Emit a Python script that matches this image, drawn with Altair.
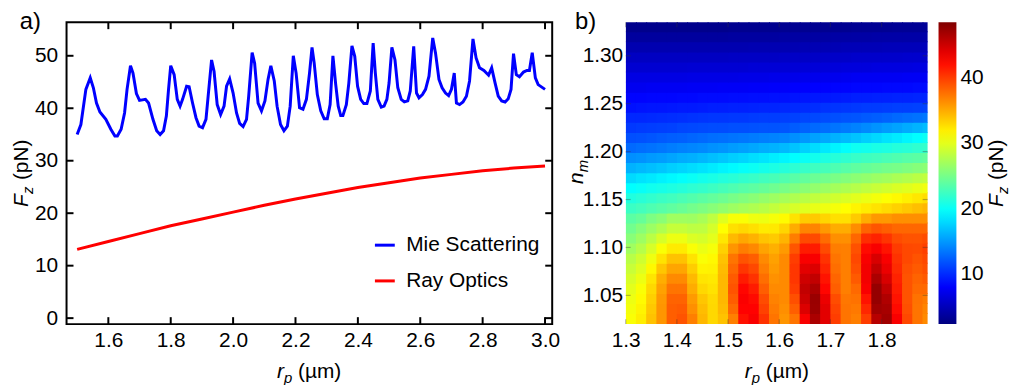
import altair as alt
import pandas as pd

FONT = "Liberation Sans"
FS = 21

# ---------------- panel a) data ----------------
mie_rp = [1.500, 1.512, 1.528, 1.542, 1.552, 1.562, 1.573, 1.592, 1.608, 1.621, 1.629, 1.641, 1.652,
          1.660, 1.671, 1.679, 1.690, 1.700, 1.719, 1.729, 1.743, 1.755, 1.766, 1.777, 1.786, 1.793,
          1.800, 1.811, 1.821, 1.830, 1.838, 1.851, 1.859, 1.870, 1.881, 1.891, 1.902, 1.913, 1.920,
          1.931, 1.939, 1.949, 1.960, 1.971, 1.979, 1.989, 2.000, 2.011, 2.021, 2.032, 2.043, 2.050,
          2.061, 2.069, 2.080, 2.091, 2.102, 2.112, 2.121, 2.132, 2.141, 2.152, 2.163, 2.174, 2.183,
          2.193, 2.202, 2.213, 2.224, 2.235, 2.245, 2.253, 2.260, 2.270, 2.281, 2.292, 2.302, 2.311,
          2.320, 2.329, 2.337, 2.345, 2.352, 2.363, 2.371, 2.381, 2.390, 2.399, 2.409, 2.419, 2.429,
          2.440, 2.449, 2.456, 2.464, 2.475, 2.484, 2.493, 2.500, 2.509, 2.519, 2.528, 2.539, 2.549,
          2.560, 2.568, 2.579, 2.588, 2.596, 2.607, 2.617, 2.628, 2.640, 2.649, 2.660, 2.670, 2.681,
          2.691, 2.700, 2.709, 2.716, 2.726, 2.737, 2.748, 2.758, 2.769, 2.779, 2.790, 2.804, 2.819,
          2.829, 2.840, 2.850, 2.861, 2.872, 2.882, 2.891, 2.899, 2.908, 2.918, 2.931, 2.942, 2.950,
          2.959, 2.969, 2.978, 3.000]
mie_fz = [35.0, 36.9, 43.6, 45.8, 43.9, 41.0, 39.3, 37.9, 36.0, 34.7, 34.7, 36.0, 39.1,
          43.6, 48.1, 46.7, 42.8, 41.5, 41.7, 41.0, 37.9, 35.7, 35.0, 35.7, 38.5, 43.6,
          48.1, 46.4, 41.7, 40.4, 41.7, 44.2, 44.1, 41.0, 38.2, 36.6, 36.3, 37.9, 42.3,
          49.2, 47.0, 40.7, 38.8, 40.4, 44.2, 45.6, 42.9, 39.1, 37.1, 36.5, 37.9, 42.3,
          50.6, 48.6, 41.0, 39.5, 41.4, 45.5, 48.1, 45.2, 40.4, 36.9, 35.7, 36.6, 40.4,
          50.0, 46.7, 40.1, 39.8, 41.7, 46.7, 51.6, 48.6, 42.6, 39.5, 38.0, 38.0, 40.7,
          50.0, 44.5, 40.4, 38.6, 38.6, 40.7, 44.8, 51.9, 49.9, 44.2, 41.7, 40.9, 40.9,
          43.3, 52.4, 46.7, 41.7, 40.2, 40.4, 41.7, 44.8, 51.6, 49.2, 43.9, 41.7, 41.2,
          41.4, 43.3, 51.8, 42.9, 42.0, 42.6, 43.6, 46.1, 53.4, 50.5, 45.5, 43.9, 42.9,
          42.4, 43.6, 46.7, 41.0, 40.7, 41.2, 42.3, 45.2, 53.2, 49.6, 47.7, 47.2, 46.3,
          47.7, 44.8, 42.3, 41.4, 41.2, 41.8, 43.6, 50.4, 46.4, 46.0, 46.9, 47.2, 47.2,
          50.6, 45.8, 44.5, 43.6]
ray_rp = [1.5, 1.6, 1.7, 1.8, 1.9, 2.0, 2.1, 2.2, 2.3, 2.4, 2.5, 2.6, 2.7, 2.8, 2.9, 3.0]
ray_fz = [13.1, 14.6, 16.1, 17.6, 18.9, 20.2, 21.5, 22.7, 23.8, 24.9, 25.8, 26.7, 27.4, 28.1, 28.6, 29.0]
series_names = ["Mie Scattering", "Ray Optics"]
series_colors = ["#0000FF", "#FF0000"]
a_x_ticks = [1.6, 1.8, 2.0, 2.2, 2.4, 2.6, 2.8, 3.0]
a_y_ticks = [0, 10, 20, 30, 40, 50]

# ---------------- panel b) data ----------------
# cell left edges (r_p, um) and bottom edges (n_m); rows listed bottom -> top
hm_rp = [1.30, 1.32, 1.34, 1.36, 1.38, 1.40, 1.42, 1.44, 1.46, 1.48, 1.50, 1.52, 1.54, 1.56, 1.58,
         1.60, 1.62, 1.64, 1.66, 1.68, 1.70, 1.72, 1.74, 1.76, 1.78, 1.80, 1.82, 1.84, 1.86, 1.88]
hm_dx = 0.02
hm_nm = [1.0200, 1.0305, 1.0410, 1.0515, 1.0620, 1.0725, 1.0830, 1.0935, 1.1040, 1.1145,
         1.1250, 1.1355, 1.1460, 1.1565, 1.1670, 1.1775, 1.1880, 1.1985, 1.2090, 1.2195,
         1.2300, 1.2405, 1.2510, 1.2615, 1.2720, 1.2825, 1.2930, 1.3035, 1.3140, 1.3245]
hm_dy = 0.0105
hm_fz = [
    [31, 32, 34, 36, 38.5, 39, 37, 34.5, 33, 34, 37, 42, 43, 40.5, 37.5, 36, 37.5, 43, 46.5, 44, 40, 37.5, 37, 40, 46, 47, 43, 39.5, 37.5, 36.5],
    [30.7, 31.7, 33.7, 36, 38.5, 38.7, 36.3, 34.2, 33, 34.3, 38, 42.7, 42.7, 39.8, 37.2, 36.3, 38.5, 44.3, 47.2, 44, 39.7, 37.5, 37.3, 41, 47, 46.7, 42.3, 39.2, 37.5, 36.8],
    [30.4, 31.4, 33.4, 35.9, 38.3, 38.3, 35.8, 33.8, 32.9, 34.5, 38.6, 42.9, 42.3, 39.3, 36.9, 36.5, 39.2, 45.1, 47.3, 43.6, 39.3, 37.4, 37.6, 41.9, 47.5, 46.3, 41.9, 39, 37.6, 37.2],
    [30, 31, 33, 35.5, 37.5, 37.5, 35, 33, 32.5, 34.5, 39, 42.5, 41.5, 38.5, 36.5, 36.5, 40, 45.5, 46.5, 42.5, 38.5, 37, 38, 43, 47.5, 45.5, 41.5, 39, 38, 38],
    [29.4, 30.4, 32.4, 34.9, 36.5, 36.5, 34.4, 32.4, 32.2, 34.5, 38.7, 41.5, 40.5, 37.8, 36.2, 36.5, 40.3, 44.9, 45.5, 41.9, 38.2, 37, 38.7, 43.3, 46.5, 44.5, 41.2, 39, 38.3, 38.7],
    [28.7, 29.7, 31.5, 33.8, 35.3, 35.3, 33.5, 31.7, 31.8, 34.3, 38.1, 40.3, 39.5, 37.1, 35.8, 36.5, 40.3, 44, 44.3, 41.1, 37.8, 37, 39.2, 43.3, 45.5, 43.6, 40.8, 39.2, 38.7, 39.2],
    [28, 29, 30.5, 32.5, 34, 34, 32.5, 31, 31.5, 34, 37.5, 39, 38.5, 36.5, 35.5, 36.5, 40, 43, 43, 40.5, 37.5, 37, 39.5, 43, 44.5, 43, 40.5, 39.5, 39, 39.5],
    [26.9, 27.9, 29.4, 31, 32.1, 32.1, 31, 30.3, 30.8, 33.3, 36, 37.1, 36.6, 35.4, 34.8, 35.8, 38.9, 41.5, 41.5, 39.4, 37.1, 37, 39.1, 42.3, 43, 41.9, 40.1, 39.5, 39.4, 39.9],
    [25.8, 26.8, 28.1, 29.4, 30.4, 30.4, 29.6, 29.3, 30, 32.3, 34.4, 35.2, 34.7, 33.9, 33.6, 34.6, 37.1, 39.4, 39.4, 37.9, 36.3, 36.3, 38.1, 40.7, 41.2, 40.4, 39.3, 39, 39, 39.3],
    [24.8, 25.7, 26.7, 27.6, 28.6, 28.6, 28.2, 28.3, 29.3, 31.2, 32.6, 33, 32.6, 32.1, 32.2, 33.1, 35, 36.8, 36.8, 35.9, 35, 35, 36.4, 38.3, 38.9, 38.5, 38.1, 38.1, 38.1, 38.1],
    [23.8, 24.3, 25.3, 25.9, 26.9, 26.9, 26.8, 27.3, 28.3, 29.8, 30.9, 31, 30.5, 30.4, 30.8, 31.4, 32.5, 33.6, 33.6, 33.1, 32.6, 32.6, 33.6, 35, 35.9, 35.9, 36.3, 36.3, 36.3, 36.3],
    [22.3, 22.7, 23.2, 23.6, 24.0, 24.4, 24.9, 25.3, 25.8, 26.3, 26.8, 27.2, 27.6, 28.0, 28.5, 29.0, 29.4, 29.8, 30.2, 30.5, 30.8, 31.2, 31.7, 32.1, 32.5, 32.9, 33.3, 33.7, 34.1, 34.5],
    [21.1, 21.5, 21.9, 22.3, 22.6, 23.0, 23.4, 23.8, 24.2, 24.6, 25.1, 25.5, 25.9, 26.4, 26.8, 27.2, 27.6, 28.0, 28.4, 28.7, 29.1, 29.5, 29.9, 30.3, 30.7, 31.1, 31.5, 31.9, 32.3, 32.7],
    [19.7, 20.0, 20.4, 20.7, 21.0, 21.3, 21.7, 22.0, 22.4, 22.8, 23.2, 23.6, 23.9, 24.3, 24.7, 25.1, 25.5, 25.9, 26.3, 26.7, 27.1, 27.5, 27.9, 28.3, 28.7, 29.1, 29.5, 29.8, 30.2, 30.6],
    [18.0, 18.4, 18.7, 19.1, 19.4, 19.8, 20.1, 20.5, 20.8, 21.2, 21.5, 21.9, 22.2, 22.6, 22.9, 23.3, 23.7, 24.1, 24.5, 24.8, 25.2, 25.6, 26.0, 26.3, 26.7, 27.0, 27.4, 27.7, 28.1, 28.4],
    [16.2, 16.5, 16.8, 17.1, 17.5, 17.8, 18.1, 18.4, 18.8, 19.2, 19.5, 19.9, 20.2, 20.6, 20.9, 21.3, 21.7, 22.1, 22.5, 22.8, 23.2, 23.6, 24.0, 24.3, 24.6, 24.9, 25.1, 25.4, 25.7, 26.0],
    [14.6, 14.8, 15.1, 15.3, 15.6, 15.9, 16.1, 16.4, 16.8, 17.1, 17.5, 17.8, 18.2, 18.5, 18.9, 19.3, 19.7, 20.1, 20.5, 21.0, 21.4, 21.8, 22.2, 22.5, 22.7, 23.0, 23.3, 23.6, 23.8, 24.1],
    [12.9, 13.1, 13.3, 13.5, 13.8, 14.0, 14.2, 14.4, 14.7, 14.9, 15.2, 15.4, 15.7, 16.0, 16.2, 16.5, 17.0, 17.6, 18.1, 18.7, 19.2, 19.8, 20.3, 20.5, 20.8, 21.0, 21.3, 21.5, 21.8, 22.0],
    [11.7, 11.8, 12.0, 12.2, 12.4, 12.5, 12.7, 12.9, 13.1, 13.2, 13.4, 13.5, 13.7, 13.9, 14.0, 14.2, 14.6, 15.0, 15.4, 15.8, 16.2, 16.6, 17.0, 17.5, 17.9, 18.4, 18.8, 19.3, 19.7, 20.2],
    [10.7, 10.8, 10.9, 11.0, 11.1, 11.3, 11.4, 11.5, 11.6, 11.6, 11.7, 11.7, 11.8, 11.9, 11.9, 12.0, 12.3, 12.6, 12.9, 13.1, 13.4, 13.7, 14.0, 14.4, 14.8, 15.2, 15.5, 15.9, 16.3, 16.7],
    [9.9, 9.9, 10.0, 10.1, 10.2, 10.3, 10.4, 10.5, 10.6, 10.6, 10.7, 10.7, 10.8, 10.9, 10.9, 11.0, 11.1, 11.3, 11.4, 11.6, 11.7, 11.9, 12.0, 12.2, 12.4, 12.6, 12.9, 13.1, 13.3, 13.5],
    [8.9, 9.0, 9.1, 9.1, 9.2, 9.3, 9.3, 9.4, 9.5, 9.5, 9.6, 9.6, 9.7, 9.8, 9.8, 9.9, 10.0, 10.1, 10.2, 10.4, 10.5, 10.6, 10.7, 10.8, 10.8, 10.9, 11.0, 11.0, 11.1, 11.2],
    [8.3, 8.3, 8.4, 8.4, 8.4, 8.5, 8.5, 8.6, 8.6, 8.6, 8.7, 8.7, 8.8, 8.8, 8.9, 8.9, 9.0, 9.1, 9.2, 9.2, 9.3, 9.4, 9.5, 9.5, 9.6, 9.6, 9.7, 9.7, 9.8, 9.8],
    [7.5, 7.5, 7.6, 7.6, 7.6, 7.6, 7.7, 7.7, 7.7, 7.8, 7.8, 7.8, 7.9, 7.9, 8.0, 8.0, 8.1, 8.1, 8.2, 8.2, 8.3, 8.3, 8.4, 8.4, 8.4, 8.5, 8.5, 8.5, 8.6, 8.6],
    [6.9, 6.9, 6.9, 6.9, 6.9, 6.9, 7.0, 7.0, 7.0, 7.0, 7.0, 7.1, 7.1, 7.1, 7.2, 7.2, 7.2, 7.3, 7.3, 7.4, 7.4, 7.5, 7.6, 7.6, 7.6, 7.6, 7.6, 7.7, 7.7, 7.7],
    [6.1, 6.1, 6.1, 6.1, 6.1, 6.1, 6.2, 6.2, 6.2, 6.2, 6.2, 6.2, 6.3, 6.3, 6.3, 6.3, 6.3, 6.4, 6.4, 6.5, 6.5, 6.6, 6.6, 6.6, 6.7, 6.7, 6.7, 6.7, 6.8, 6.8],
    [5.4, 5.4, 5.4, 5.4, 5.4, 5.4, 5.4, 5.4, 5.4, 5.4, 5.5, 5.5, 5.5, 5.5, 5.5, 5.6, 5.6, 5.6, 5.6, 5.7, 5.7, 5.7, 5.8, 5.8, 5.8, 5.8, 5.8, 5.9, 5.9, 5.9],
    [4.6, 4.6, 4.6, 4.6, 4.6, 4.6, 4.6, 4.6, 4.6, 4.6, 4.6, 4.6, 4.7, 4.7, 4.7, 4.7, 4.7, 4.8, 4.8, 4.8, 4.8, 4.9, 4.9, 4.9, 4.9, 5.0, 5.0, 5.0, 5.0, 5.1],
    [3.8, 3.8, 3.8, 3.8, 3.8, 3.8, 3.8, 3.8, 3.8, 3.8, 3.9, 3.9, 3.9, 3.9, 3.9, 4.0, 4.0, 4.0, 4.0, 4.0, 4.1, 4.1, 4.1, 4.1, 4.2, 4.2, 4.2, 4.2, 4.2, 4.3],
    [3.0, 3.0, 3.0, 3.0, 3.0, 3.0, 3.0, 3.0, 3.0, 3.0, 3.1, 3.1, 3.1, 3.1, 3.1, 3.2, 3.2, 3.2, 3.2, 3.2, 3.2, 3.2, 3.3, 3.3, 3.3, 3.3, 3.4, 3.4, 3.4, 3.5],
]
b_x_ticks = [1.3, 1.4, 1.5, 1.6, 1.7, 1.8]
b_y_ticks = [1.05, 1.10, 1.15, 1.20, 1.25, 1.30]
cbar_ticks = [10, 20, 30, 40]
jet_colors = ["#00007F", "#0000FF", "#0080FF", "#00FFFF", "#80FF80",
              "#FFFF00", "#FF8000", "#FF0000", "#7F0000"]

# ---------------- tables ----------------
line_df = pd.concat([
    pd.DataFrame({"rp": mie_rp, "fz": mie_fz, "series": series_names[0]}),
    pd.DataFrame({"rp": ray_rp, "fz": ray_fz, "series": series_names[1]}),
])
rows = []
for j, n in enumerate(hm_nm):
    for i, r in enumerate(hm_rp):
        # tiny overlap (about 1 px) so no hairline seams show between cells
        rows.append({"rp": r, "rp2": r + hm_dx + 0.002, "nm": n, "nm2": n + hm_dy + 0.001,
                     "fz": hm_fz[j][i]})
hm_df = pd.DataFrame(rows)

W1, W2, H = 489, 304, 304
TK = 7


def txt(s, x, y, size=FS, style="normal", angle=0, align="left"):
    return alt.Chart(pd.DataFrame({"t": [s]})).mark_text(
        font=FONT, fontSize=size, fontStyle=style, angle=angle, align=align,
        baseline="alphabetic", color="black"
    ).encode(text="t:N", x=alt.value(x), y=alt.value(y))


def axis(vals, fmt, pad):
    return alt.Axis(values=vals, format=fmt, title=None, ticks=False, tickSize=0, domain=False,
                    grid=False, labelFont=FONT, labelFontSize=FS, labelColor="black",
                    labelPadding=pad, labelFlush=False, labelOverlap=False)


# ---------------- panel a ----------------
xs1 = alt.Scale(domain=[1.466, 3.023], nice=False, zero=False)
ys1 = alt.Scale(domain=[-1.14, 56.4], nice=False, zero=False)

lines = alt.Chart(line_df).mark_line(strokeWidth=3, clip=True).encode(
    x=alt.X("rp:Q", scale=xs1, axis=axis(a_x_ticks, ".1f", 6)),
    y=alt.Y("fz:Q", scale=ys1, axis=axis(a_y_ticks, "d", 9)),
    color=alt.Color("series:N", scale=alt.Scale(domain=series_names, range=series_colors),
                    legend=alt.Legend(orient="none", legendX=309, legendY=213, title=None,
                                      symbolType="stroke", symbolStrokeWidth=3, symbolSize=400,
                                      labelFont=FONT, labelFontSize=FS, labelColor="black",
                                      labelOffset=10, rowPadding=14, padding=0)),
)
xt1 = pd.DataFrame({"v": a_x_ticks})
yt1 = pd.DataFrame({"v": a_y_ticks})
a_ticks = [
    alt.Chart(xt1).mark_rule(color="black", strokeWidth=2).encode(
        x=alt.X("v:Q", scale=xs1, title=None), y=alt.value(H - TK), y2=alt.value(H)),
    alt.Chart(xt1).mark_rule(color="black", strokeWidth=2).encode(
        x=alt.X("v:Q", scale=xs1, title=None), y=alt.value(0), y2=alt.value(TK)),
    alt.Chart(yt1).mark_rule(color="black", strokeWidth=2).encode(
        y=alt.Y("v:Q", scale=ys1, title=None), x=alt.value(0), x2=alt.value(TK)),
    alt.Chart(yt1).mark_rule(color="black", strokeWidth=2).encode(
        y=alt.Y("v:Q", scale=ys1, title=None), x=alt.value(W1 - TK), x2=alt.value(W1)),
]
a_texts = [
    txt("a)", -47, 7, size=24),
    txt("F", -39, 186, style="italic", angle=270),
    txt("z", -34, 173, size=15, style="italic", angle=270),
    txt("(pN)", -39, 159, angle=270),
    txt("r", 212, 358, style="italic"),
    txt("p", 219, 363, size=15, style="italic"),
    txt("(µm)", 233, 358),
]
left = alt.layer(lines, *a_ticks, *a_texts).properties(
    width=W1, height=H, view=alt.ViewBackground(stroke="black", strokeWidth=2))

# ---------------- panel b ----------------
xs2 = alt.Scale(domain=[1.3, 1.89], nice=False, zero=False)
ys2 = alt.Scale(domain=[1.02, 1.335], nice=False, zero=False)
cs = alt.Scale(domain=[2.4, 48.5], range=jet_colors, interpolate="rgb", clamp=True, nice=False, zero=False)

heat = alt.Chart(hm_df).mark_rect(clip=True).encode(
    x=alt.X("rp:Q", scale=xs2, axis=axis(b_x_ticks, ".1f", 6)),
    x2="rp2:Q",
    y=alt.Y("nm:Q", scale=ys2, axis=axis(b_y_ticks, ".2f", 3)),
    y2="nm2:Q",
    fill=alt.Fill("fz:Q", scale=cs, legend=alt.Legend(
        title=None, orient="right", offset=11, direction="vertical", type="gradient",
        gradientLength=H, gradientThickness=18, gradientStrokeWidth=0,
        values=cbar_ticks, labelFont=FONT, labelFontSize=FS, labelColor="black",
        labelOffset=4, labelOverlap=False, padding=0, tickCount=4)),
)
xt2 = pd.DataFrame({"v": b_x_ticks})
yt2 = pd.DataFrame({"v": b_y_ticks})
gt = dict(color="#333333", strokeWidth=1.2, opacity=0.35)
b_ticks = [
    alt.Chart(xt2).mark_rule(**gt).encode(x=alt.X("v:Q", scale=xs2, title=None), y=alt.value(0), y2=alt.value(5)),
    alt.Chart(xt2).mark_rule(**gt).encode(x=alt.X("v:Q", scale=xs2, title=None), y=alt.value(H - 5), y2=alt.value(H)),
    alt.Chart(yt2).mark_rule(**gt).encode(y=alt.Y("v:Q", scale=ys2, title=None), x=alt.value(W2 - 5), x2=alt.value(W2)),
    alt.Chart(yt2).mark_rule(**gt).encode(y=alt.Y("v:Q", scale=ys2, title=None), x=alt.value(0), x2=alt.value(5)),
]
b_texts = [
    txt("b)", -51, 7, size=24),
    txt("n", -43, 163, style="italic", angle=270),
    txt("m", -38, 151, size=15, style="italic", angle=270),
    txt("r", 120, 358, style="italic"),
    txt("p", 127, 363, size=15, style="italic"),
    txt("(µm)", 141, 358),
    txt("F", 380, 186, style="italic", angle=270),
    txt("z", 385, 173, size=15, style="italic", angle=270),
    txt("(pN)", 380, 159, angle=270),
]
right = alt.layer(heat, *b_ticks, *b_texts).properties(width=W2, height=H)

chart = alt.hconcat(left, right, spacing=74, bounds="flush").resolve_scale(
    x="independent", y="independent", color="independent", fill="independent"
).configure_view(stroke=None).properties(
    padding={"left": 10, "top": 8, "right": 5, "bottom": 5}, background="white")

chart.save("out.html", embed_options={"renderer": "svg", "actions": False})
